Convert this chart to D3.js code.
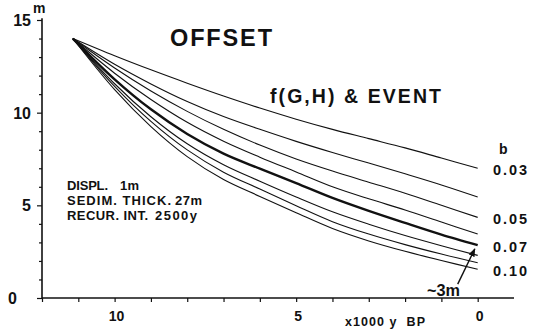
<!DOCTYPE html>
<html><head><meta charset="utf-8">
<script src="https://cdn.jsdelivr.net/npm/d3@7"></script>
<style>
body{margin:0;background:#fff;}
svg{display:block;}
text{font-family:"Liberation Sans",Arial,sans-serif;fill:#111;font-weight:bold;}
</style></head>
<body>
<svg id="c" width="542" height="334"></svg>
<script>
// time axis (x1000 y BP) sample points
const times = [11.15, 10, 9, 8, 7, 6, 5, 4, 3, 2, 1, 0];
const bValues = ["0.03","0.04","0.05","0.06","0.07","0.08","0.09","0.10"];
// offset (m) for each b
const off003 = [14.0, 13.07, 12.31, 11.59, 10.90, 10.25, 9.65, 9.1, 8.6, 8.1, 7.55, 7.0];
const off004 = [14.0, 12.61, 11.55, 10.60, 9.79, 9.1, 8.45, 7.85, 7.28, 6.7, 6.1, 5.45];
const off005 = [14.0, 12.41, 11.17, 10.07, 9.10, 8.25, 7.5, 6.85, 6.25, 5.65, 5.0, 4.35];
const off006 = [14.0, 12.13, 10.71, 9.48, 8.46, 7.6, 6.8, 6.0, 5.35, 4.75, 4.1, 3.45];
const off007 = [14.0, 11.80, 10.18, 8.85, 7.79, 6.98, 6.2, 5.4, 4.7, 4.05, 3.42, 2.85];
const off008 = [14.0, 11.56, 9.78, 8.32, 7.19, 6.3, 5.45, 4.65, 3.98, 3.37, 2.82, 2.3];
const off009 = [14.0, 11.42, 9.53, 7.99, 6.79, 5.88, 4.98, 4.12, 3.45, 2.88, 2.37, 1.9];
const off010 = [14.0, 11.24, 9.25, 7.63, 6.39, 5.48, 4.6, 3.75, 3.08, 2.52, 2.02, 1.55];
const series = [off003, off004, off005, off006, off007, off008, off009, off010];
const labelledB = ["0.03","0.05","0.07","0.10"];
const yTickLabels = [15, 10, 5, 0];
const xTickLabels = [10, 5, 0];
const paramNames = ["DISPL.", "SEDIM. THICK.", "RECUR. INT."];
const paramValues = ["1m", "27m", "2500y"];

const svg = d3.select("#c");
const x = d3.scaleLinear().domain([12, -1]).range([42, 514]);
const y = d3.scaleLinear().domain([0, 15]).range([298, 20]);

// axes
const yAxis = svg.append("g").attr("transform","translate(42,0)")
  .call(d3.axisLeft(y).tickValues(d3.range(0,16)).tickSize(3).tickFormat(""));
yAxis.select(".domain").attr("stroke","#111").attr("stroke-width",1.6).attr("d","M0,"+y(15.1)+"V"+y(0));
yAxis.selectAll(".tick line").attr("stroke","#111").attr("stroke-width",1.2)
  .attr("x2", d => d % 5 === 0 ? -5 : -3);

const xAxis = svg.append("g").attr("transform","translate(0,298)")
  .call(d3.axisBottom(x).tickValues(d3.range(0,13)).tickSize(4).tickFormat(""));
xAxis.select(".domain").attr("stroke","#111").attr("stroke-width",1.6).attr("d","M"+x(12)+",0H"+x(-1));
xAxis.selectAll(".tick line").attr("stroke","#111").attr("stroke-width",1.2);

// tick labels
svg.selectAll(".ylab").data(yTickLabels).join("text")
  .attr("x", d => d === 0 ? 17 : 31).attr("y", d => y(d) + 6)
  .attr("text-anchor","end").attr("font-size",16).text(d => d);
svg.append("text").attr("x",33).attr("y",y(15)-7).attr("font-size",14).text("m");
svg.selectAll(".xlab").data(xTickLabels).join("text")
  .attr("x", d => x(d) + 2).attr("y", 321)
  .attr("text-anchor","middle").attr("font-size",14).text(d => d);
svg.append("text").attr("x",345).attr("y",326).attr("font-size",12.5)
  .attr("textLength",80).attr("lengthAdjust","spacing").text("x1000 y  BP").style("white-space","pre");

// curves
const line = d3.line().x((d,i) => x(times[i])).y(d => y(d)).curve(d3.curveCatmullRom.alpha(0.5));
svg.selectAll(".curve").data(series).join("path")
  .attr("fill","none").attr("stroke","#111")
  .attr("stroke-width",(d,i) => bValues[i] === "0.07" ? 2.4 : 1.1)
  .attr("d", line);

// b labels
svg.append("text").attr("x",499).attr("y",154).attr("font-size",14).text("b");
svg.selectAll(".blab").data(labelledB).join("text")
  .attr("x",493).attr("y", d => y(series[bValues.indexOf(d)][times.length-1]) + 7)
  .attr("font-size",14.5).attr("textLength",34).attr("lengthAdjust","spacing").text(d => d);

// titles
svg.append("text").attr("x",170).attr("y",46).attr("font-size",23.5)
  .attr("textLength",102).attr("lengthAdjust","spacing").text("OFFSET");
svg.append("text").attr("x",270).attr("y",103).attr("font-size",19.5)
  .attr("textLength",171).attr("lengthAdjust","spacing").text("f(G,H) & EVENT");

// parameter block
const valueX = [120, 175, 155];
const nameLen = [41, 104, 81];
const valLen = [19, 27, 42];
paramNames.forEach((n, i) => {
  svg.append("text").attr("x",67).attr("y",190 + i*15).attr("font-size",13)
    .attr("textLength",nameLen[i]).attr("lengthAdjust","spacing").text(n);
  svg.append("text").attr("x",valueX[i]).attr("y",190 + i*15).attr("font-size",13)
    .attr("textLength",valLen[i]).attr("lengthAdjust","spacing").text(paramValues[i]);
});

// ~3m arrow annotation
const arrowFrom = [0.55, 0.75], arrowTo = [0.08, 2.65];
svg.append("defs").append("marker").attr("id","ah").attr("viewBox","0 0 10 10")
  .attr("refX",9).attr("refY",5).attr("markerWidth",6).attr("markerHeight",6).attr("orient","auto")
  .append("path").attr("d","M0,1L10,5L0,9Z").attr("fill","#111");
svg.append("line").attr("x1",x(arrowFrom[0])).attr("y1",y(arrowFrom[1]))
  .attr("x2",x(arrowTo[0])).attr("y2",y(arrowTo[1])).attr("stroke","#111").attr("stroke-width",1.4)
  .attr("marker-end","url(#ah)");
svg.append("text").attr("x",427).attr("y",296).attr("font-size",17)
  .attr("textLength",33).attr("lengthAdjust","spacingAndGlyphs").text("~3m");
</script>
</body></html>
